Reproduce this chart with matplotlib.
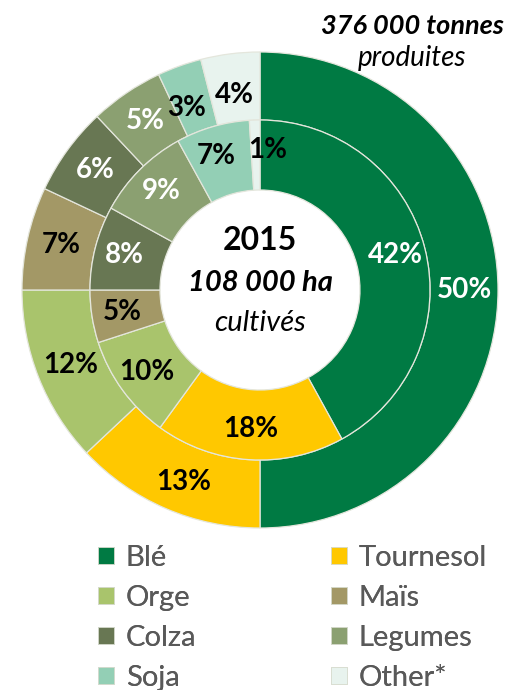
import matplotlib
matplotlib.use("Agg")
import matplotlib.pyplot as plt
from matplotlib.patches import Patch
import numpy as np

crops = ["Blé", "Tournesol", "Orge", "Maïs", "Colza", "Legumes", "Soja", "Other*"]
production_pct = [50, 13, 12, 7, 6, 5, 3, 4]   # outer ring: 376 000 tonnes produites
area_pct = [42, 18, 10, 5, 8, 9, 7, 1]          # inner ring: 108 000 ha cultivés
colors = ["#007A43", "#FFC800", "#A9C46C", "#A39866", "#687753", "#8BA071", "#93CFB5", "#E8F3EE"]
label_colors = ["white", "black", "black", "black", "white", "white", "black", "black"]
year = "2015"
area_total = "108 000 ha"
prod_total = "376 000 tonnes"

FONT = ["Lato", "DejaVu Sans"]
plt.rcParams['font.family'] = FONT

fig = plt.figure(figsize=(5.09, 6.9), dpi=100)
W, H = 509, 690
cx, cy, R = 260, 290, 238
ax = fig.add_axes([(cx - R) / W, (H - cy - R) / H, 2 * R / W, 2 * R / H])
ax.set_aspect("equal")
ax.axis("off")

r_out = 1.0
r_mid = 170 / R
r_in = 100 / R
edge = dict(edgecolor="#E4E6DC", linewidth=0.9)

outer, _ = ax.pie(production_pct, radius=r_out, colors=colors, startangle=90, counterclock=False,
                  wedgeprops=dict(width=r_out - r_mid, **edge))
inner, _ = ax.pie(area_pct, radius=r_mid, colors=colors, startangle=90, counterclock=False,
                  wedgeprops=dict(width=r_mid - r_in, **edge))
ax.set_xlim(-1, 1)
ax.set_ylim(-1, 1)

LBL = 20

def place_labels(wedges, values, rad, nudges=None):
    for i, (w, v) in enumerate(zip(wedges, values)):
        ang = np.deg2rad((w.theta1 + w.theta2) / 2)
        x, y = rad * np.cos(ang), rad * np.sin(ang)
        if nudges and i in nudges:
            x += nudges[i][0]
            y += nudges[i][1]
        ax.text(x, y, f"{v}%", ha="center", va="center", fontsize=LBL, fontweight="bold",
                color=label_colors[i])

place_labels(outer, production_pct, (r_out + r_mid) / 2,
             nudges={1: (0.02, -0.02), 6: (-0.02, -0.04), 7: (0.0, -0.03)})
place_labels(inner, area_pct, (r_mid + r_in) / 2 + 0.02,
             nudges={7: (0.05, 0.0), 6: (-0.02, 0.0)})

ax.text(0, 0.21, year, ha="center", va="center", fontsize=23, fontweight="bold", color="black")
ax.text(0, 0.03, area_total, ha="center", va="center", fontsize=21, fontweight="bold",
        fontstyle="italic", color="black")
ax.text(0, -0.14, "cultivés", ha="center", va="center", fontsize=21, fontstyle="italic", color="black")

fig.text(412 / W, 1 - 26 / H, prod_total, ha="center", va="center", fontsize=19.5,
         fontweight="bold", fontstyle="italic", color="black")
fig.text(412 / W, 1 - 58 / H, "produites", ha="center", va="center", fontsize=20,
         fontstyle="italic", color="black")

leg_kw = dict(loc="upper left", frameon=False, fontsize=21, labelcolor="#595959",
              handlelength=0.55, handleheight=0.55, handletextpad=0.4,
              labelspacing=0.48, borderpad=0, borderaxespad=0)
cols = [[0, 2, 4, 6], [1, 3, 5, 7]]
xs = [98, 331]
for col, x0 in zip(cols, xs):
    handles = [Patch(facecolor=colors[i], edgecolor="#D8DCD0", linewidth=0.6) for i in col]
    leg = fig.legend(handles, [crops[i] for i in col], bbox_to_anchor=(x0 / W, 1 - 545 / H), **leg_kw)
    fig.add_artist(leg)

fig.savefig("out.png", dpi=100)
